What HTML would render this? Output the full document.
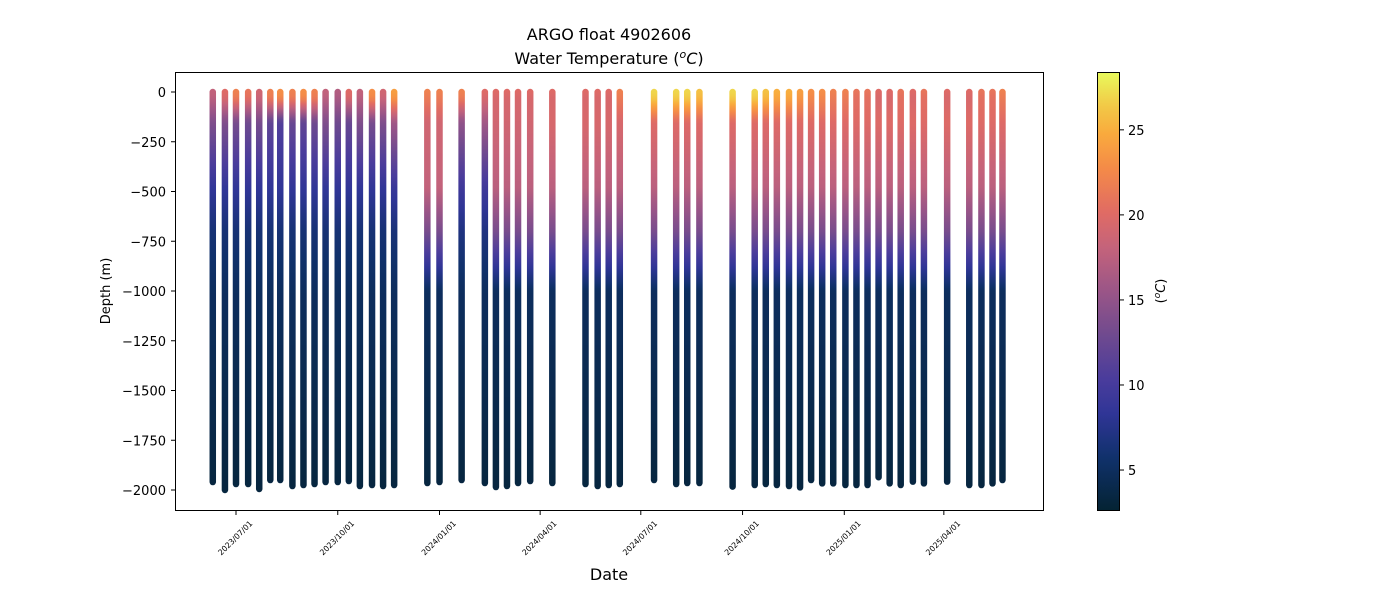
<!DOCTYPE html>
<html><head><meta charset="utf-8">
<style>
html,body{margin:0;padding:0;background:#fff;}
svg{display:block;font-family:"DejaVu Sans","Liberation Sans",sans-serif;}
</style></head>
<body>
<svg id="chart" width="1400" height="600" viewBox="0 0 1400 600" xmlns="http://www.w3.org/2000/svg">
<defs id="defs"></defs>
<text x="609" y="40" text-anchor="middle" font-size="16">ARGO float 4902606</text>
<text x="609" y="64" text-anchor="middle" font-size="16">Water Temperature (<tspan font-style="italic" font-size="11" dy="-6">o</tspan><tspan font-style="italic" dy="6">C</tspan>)</text>
<text transform="translate(110,291) rotate(-90)" text-anchor="middle" font-size="13">Depth (m)</text>
<text x="609" y="580" text-anchor="middle" font-size="16">Date</text>
<g id="marks"></g>
<rect x="175.5" y="72.5" width="868" height="438" fill="none" stroke="#000" stroke-width="1"/>
<g id="yticks"></g>
<g id="xticks"></g>
<rect id="cbar" x="1097.5" y="72.5" width="22" height="438" stroke="#000" stroke-width="1"/>
<g id="cticks"></g>
<text transform="translate(1165,291) rotate(-90)" text-anchor="middle" font-size="13">(<tspan font-style="italic" font-size="9" dy="-5">o</tspan><tspan font-style="italic" dy="5">C</tspan>)</text>
</svg>
<script>
const profileDates = ["2023-06-10","2023-06-21","2023-07-01","2023-07-12","2023-07-22","2023-08-01","2023-08-10","2023-08-21","2023-08-31","2023-09-10","2023-09-20","2023-10-01","2023-10-11","2023-10-21","2023-11-01","2023-11-11","2023-11-21",
"2023-12-21","2024-01-01","2024-01-21","2024-02-11","2024-02-21","2024-03-02","2024-03-12","2024-03-23","2024-04-12","2024-05-12","2024-05-23","2024-06-02","2024-06-12","2024-07-13","2024-08-02","2024-08-12","2024-08-23","2024-09-22",
"2024-10-12","2024-10-22","2024-11-01","2024-11-12","2024-11-22","2024-12-02","2024-12-12","2024-12-22","2025-01-02","2025-01-12","2025-01-22","2025-02-01","2025-02-11","2025-02-21","2025-03-04","2025-03-14","2025-04-04","2025-04-24","2025-05-05","2025-05-15","2025-05-24"];
const maxDepth = [1960,2000,1970,1970,1995,1950,1950,1980,1975,1970,1960,1960,1955,1980,1975,1980,1975,
1965,1960,1950,1965,1985,1980,1965,1955,1965,1970,1980,1975,1970,1950,1970,1965,1965,1983,
1975,1970,1975,1980,1987,1950,1967,1967,1975,1975,1975,1936,1967,1975,1958,1967,1958,1975,1975,1967,1950];
const surfaceTemp = [18,20,22,21,19,22,23,22,23,22,18,17,20,18,23,19,24,
22,22,22,20,20,20,20,20,20,20,20,20,22,27,27,27,26,27,
27,26,25,25,24,23,23,22,22,21,21,20,20,21,20,21,20,20,21,21,22];
const temp150 = [14,14,13.5,13,13.5,12,11,12.5,12,13,14,13,12.5,14,13.5,14,16,
19,19,15,16,19,19,19,19,19.5,19.5,19.5,19.5,19.5,20,20,20,20,20,
20,20,20,20,20,20,20,20,20,20,20,20,20,20,20,20,20,20,20,20,20];
const temp480 = [8.5,8.5,8.5,8.5,8.5,8.5,8.5,8.5,8.5,8.5,8.5,8.5,8.5,8.5,8.5,8.5,9,
18,18,9.5,9.5,17.5,17.5,17.5,17.5,17.5,17.5,17.5,17.5,17.5,17.5,17.5,17.5,17.5,17.5,
17.5,17.5,17.5,17.5,17.5,17.5,17.5,17.5,17.5,17.5,17.5,17.5,17.5,17.5,17.5,17.5,17.5,17.5,17.5,17.5,17.5];
const temp700 = [6.3,6.3,6.3,6.3,6.3,6.3,6.3,6.3,6.3,6.3,6.3,6.3,6.3,6.3,6.3,6.3,6.5,
13.5,13.5,7,7,13.5,13.5,13.5,13.5,13.5,13.5,13.5,13.5,13.5,13.5,13.5,13.5,13.5,13.5,
13.5,13.5,13.5,13.5,13.5,13.5,13.5,13.5,13.5,13.5,13.5,13.5,13.5,13.5,13.5,13.5,13.5,13.5,13.5,13.5,13.5];
const yTicks = [0,-250,-500,-750,-1000,-1250,-1500,-1750,-2000];
const xTickDates = ["2023-07-01","2023-10-01","2024-01-01","2024-04-01","2024-07-01","2024-10-01","2025-01-01","2025-04-01"];
const cTicks = [5,10,15,20,25];

const NS="http://www.w3.org/2000/svg";
const day=86400000;
const xPerDay=1.106;
function xScale(ds){return 236+((Date.parse(ds)-Date.parse("2023-07-01"))/day)*xPerDay;}
function yScale(d){return 92-d*0.199;}
const tMin=2.65,tMax=28.4;
function cScale(t){return 510-(t-tMin)/(tMax-tMin)*438;}
const cmapStops=[[0,"#042333"],[0.12,"#10316b"],[0.22,"#2f3596"],[0.3,"#4a3c9c"],[0.4,"#6f4a8f"],[0.5,"#9a5587"],[0.6,"#c4637b"],[0.68,"#e06b64"],[0.78,"#f48a48"],[0.86,"#f9aa3d"],[0.93,"#f1cc48"],[1,"#e8fa5b"]];
function hex(c){return [1,3,5].map(i=>parseInt(c.substr(i,2),16));}
function cmap(t){let f=Math.max(0,Math.min(1,(t-tMin)/(tMax-tMin)));
 for(let i=1;i<cmapStops.length;i++){if(f<=cmapStops[i][0]){const a=cmapStops[i-1],b=cmapStops[i];const u=(f-a[0])/(b[0]-a[0]);const A=hex(a[1]),B=hex(b[1]);return "rgb("+A.map((v,k)=>Math.round(v+(B[k]-v)*u)).join(",")+")";}}
 return cmapStops[cmapStops.length-1][1];}
function el(tag,attrs,parent){const e=document.createElementNS(NS,tag);for(const k in attrs)e.setAttribute(k,attrs[k]);parent.appendChild(e);return e;}
const defs=document.getElementById("defs");
const marks=document.getElementById("marks");

function tempAt(i,d){
 const D=[0,30,150,480,700,1000,2000], T=[surfaceTemp[i],surfaceTemp[i]-0.5,temp150[i],temp480[i],temp700[i],5.0,3.3];
 for(let k=1;k<D.length;k++){if(d<=D[k]){const u=(d-D[k-1])/(D[k]-D[k-1]);return T[k-1]+(T[k]-T[k-1])*u;}}
 return T[T.length-1];}

profileDates.forEach((ds,i)=>{
 const x=xScale(ds), y0=yScale(0), y1=yScale(-maxDepth[i]);
 const g=el("linearGradient",{id:"pg"+i,x1:"0",y1:String(y0),x2:"0",y2:String(y1),gradientUnits:"userSpaceOnUse"},defs);
 for(let d=0;d<=maxDepth[i];d+=20){el("stop",{offset:(d/maxDepth[i]).toFixed(4),"stop-color":cmap(tempAt(i,d))},g);}
 const ln=el("line",{x1:x,y1:y0,x2:x,y2:y1,stroke:"url(#pg"+i+")","stroke-width":"6.5","stroke-linecap":"round"},marks);
 
 
});

const yt=document.getElementById("yticks");
yTicks.forEach(v=>{const y=yScale(v);
 const t=el("line",{x1:171,x2:175,y1:y,y2:y,stroke:"#000"},yt);
 
 
 const lb=el("text",{x:166,y:y+5,"text-anchor":"end","font-size":"13"},yt);
 lb.textContent=(v<0?"\u2212"+(-v):String(v));
 
 
});
const xt=document.getElementById("xticks");
xTickDates.forEach(ds=>{const x=xScale(ds);
 const t=el("line",{x1:x,x2:x,y1:511,y2:515,stroke:"#000"},xt);
 
 
 const lb=el("text",{transform:"translate("+(x+17)+",524) rotate(-45)","text-anchor":"end","font-size":"7.8"},xt);
 lb.textContent=ds.replace(/-/g,"/");
 
 
});
const cg=el("linearGradient",{id:"cbg",x1:"0",y1:"1",x2:"0",y2:"0"},defs);
for(let k=0;k<=50;k++){const t=tMin+(tMax-tMin)*k/50;el("stop",{offset:(k/50).toFixed(3),"stop-color":cmap(t)},cg);}
document.getElementById("cbar").setAttribute("fill","url(#cbg)");
const ct=document.getElementById("cticks");
cTicks.forEach(v=>{const y=cScale(v);
 const t=el("line",{x1:1120,x2:1124,y1:y,y2:y,stroke:"#000"},ct);
 
 
 const lb=el("text",{x:1128,y:y+5,"font-size":"13"},ct);
 lb.textContent=String(v);
 
 
});
</script>
</body></html>
